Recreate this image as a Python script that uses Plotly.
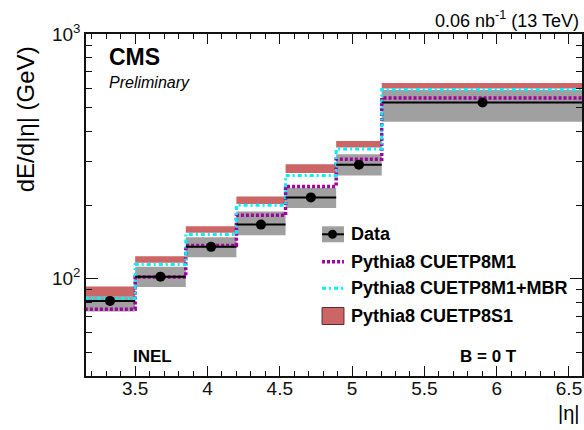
import plotly.graph_objects as go

# |eta| bin edges (HF towers + CASTOR)
eta_edges = [3.152, 3.5, 3.85, 4.2, 4.54, 4.89, 5.205, 6.6]

# measured dE/d|eta| (GeV) with systematic band
data_val = [81.1, 101.9, 134.9, 166.3, 214.8, 291.9, 525.0]
data_lo = [73.4, 92.4, 122.4, 150.5, 194.5, 264.1, 438.0]
data_hi = [89.0, 111.9, 147.7, 188.0, 235.0, 322.6, 590.0]

# generator predictions
cuetp8m1 = [75.0, 101.5, 136.6, 181.5, 238.2, 307.8, 548.0]
cuetp8m1_mbr = [82.9, 114.3, 151.5, 199.4, 264.1, 339.1, 593.0]
cuetp8s1_lo = [85.0, 116.2, 153.9, 202.0, 270.1, 343.3, 599.0]
cuetp8s1_hi = [92.8, 123.6, 163.7, 216.9, 293.8, 365.5, 631.0]

x_ticks = [3.5, 4, 4.5, 5, 5.5, 6, 6.5]
x_ticktext = ["3.5", "4", "4.5", "5", "5.5", "6", "6.5"]
y_ticks = [100, 1000]
y_ticktext = ["10<sup>2</sup>", "10<sup>3</sup>"]
y_minor = [50, 60, 70, 80, 90, 200, 300, 400, 500, 600, 700, 800, 900]

W, H = 584, 430
ML, MR, MT, MB = 86, 0, 34, 54
PW, PH = W - ML - MR, H - MT - MB

FONT = "Liberation Sans, Arial, Helvetica, sans-serif"
GRAY = "#a0a0a0"
RED = "#cc6666"
MAGENTA = "#a000a0"
CYAN = "#00f0ff"


def px(x):
    return (x - ML) / PW


def py(y):
    return (H - MB - y) / PH


def boxes(lo, hi):
    xs, ys = [], []
    for i in range(len(lo)):
        x0, x1 = eta_edges[i], eta_edges[i + 1]
        xs += [x0, x1, x1, x0, x0, None]
        ys += [lo[i], lo[i], hi[i], hi[i], lo[i], None]
    return xs, ys


def steps(vals):
    return eta_edges, list(vals) + [vals[-1]]


centers = [(eta_edges[i] + eta_edges[i + 1]) / 2 for i in range(len(data_val))]
halfw = [(eta_edges[i + 1] - eta_edges[i]) / 2 for i in range(len(data_val))]

fig = go.Figure()

gx, gy = boxes(data_lo, data_hi)
fig.add_trace(go.Scatter(x=gx, y=gy, fill="toself", fillcolor=GRAY,
                         line=dict(width=0), mode="lines", hoverinfo="skip"))
rx, ry = boxes(cuetp8s1_lo, cuetp8s1_hi)
fig.add_trace(go.Scatter(x=rx, y=ry, fill="toself", fillcolor=RED,
                         line=dict(width=0), mode="lines", hoverinfo="skip"))

sx, sy = steps(cuetp8m1)
fig.add_trace(go.Scatter(x=sx, y=sy, mode="lines", line_shape="hv",
                         line=dict(color=MAGENTA, width=3.5, dash="3px,2px")))
sx, sy = steps(cuetp8m1_mbr)
fig.add_trace(go.Scatter(x=sx, y=sy, mode="lines", line_shape="hv",
                         line=dict(color=CYAN, width=3, dash="4px,3px,2px,3px")))

# data points on top, horizontal bar spans the bin
fig.add_trace(go.Scatter(
    x=centers, y=data_val, mode="markers",
    marker=dict(color="black", size=10),
    error_x=dict(type="data", array=halfw, color="black", thickness=2, width=0),
))

axis_common = dict(
    showline=True, linecolor="#111", linewidth=1.5, mirror="allticks",
    ticks="inside", tickcolor="#111", tickwidth=1.2, showgrid=False,
    zeroline=False, tickfont=dict(family=FONT, size=19, color="#111"),
)

fig.update_xaxes(range=[3.16, 6.59], tickvals=x_ticks, ticktext=x_ticktext,
                 ticklen=10, ticklabelstandoff=-6,
                 minor=dict(ticks="inside", dtick=0.1, tick0=3.5, ticklen=5,
                            tickcolor="#111", tickwidth=1.2, showgrid=False),
                 **axis_common)
fig.update_yaxes(type="log", range=[1.60206, 3.0], tickvals=y_ticks,
                 ticktext=y_ticktext, ticklen=12,
                 minor=dict(ticks="inside", tickvals=y_minor, ticklen=6,
                            tickcolor="#111", tickwidth=1.2, showgrid=False),
                 **axis_common)

ann = []


def text(s, x, y, size, xanchor="left", yanchor="middle", angle=0):
    ann.append(dict(text=s, x=px(x), y=py(y), xref="paper", yref="paper",
                    xanchor=xanchor, yanchor=yanchor, showarrow=False,
                    textangle=angle,
                    font=dict(family=FONT, size=size, color="black")))


text("<b>CMS</b>", 107, 57.5, 23)
text("<i>Preliminary</i>", 107, 83, 16)
text("0.06 nb<sup>-1</sup> (13 TeV)", 583, 20, 18, xanchor="right")
text("<b>INEL</b>", 131, 356, 17)
text("<b>B = 0 T</b>", 460, 356, 17)
text("|η|", 584, 413, 20, xanchor="right")
text("dE/d|η| (GeV)", 26, 119, 24, xanchor="center", angle=-90)

# legend
leg_x0, leg_x1, leg_tx = 323, 345, 350
rows = [234.3, 261.7, 288.3, 315.5]
labels = ["Data", "Pythia8 CUETP8M1", "Pythia8 CUETP8M1+MBR", "Pythia8 CUETP8S1"]
for r, lab in zip(rows, labels):
    text("<b>" + lab + "</b>", leg_tx, r, 18)

shapes = [
    dict(type="rect", xref="paper", yref="paper",
         x0=px(leg_x0), x1=px(leg_x1), y0=py(rows[0] + 8), y1=py(rows[0] - 8),
         fillcolor=GRAY, line=dict(width=0)),
    dict(type="line", xref="paper", yref="paper",
         x0=px(leg_x0), x1=px(leg_x1), y0=py(rows[0]), y1=py(rows[0]),
         line=dict(color="black", width=2)),
    dict(type="circle", xref="paper", yref="paper",
         x0=px(333.5 - 4.5), x1=px(333.5 + 4.5),
         y0=py(rows[0] + 4.5), y1=py(rows[0] - 4.5),
         fillcolor="black", line=dict(width=0)),
    dict(type="line", xref="paper", yref="paper",
         x0=px(leg_x0), x1=px(leg_x1), y0=py(rows[1]), y1=py(rows[1]),
         line=dict(color=MAGENTA, width=3.5, dash="3px,2px")),
    dict(type="line", xref="paper", yref="paper",
         x0=px(leg_x0), x1=px(leg_x1), y0=py(rows[2]), y1=py(rows[2]),
         line=dict(color=CYAN, width=3, dash="4px,3px,2px,3px")),
    dict(type="rect", xref="paper", yref="paper",
         x0=px(leg_x0), x1=px(leg_x1), y0=py(rows[3] + 9), y1=py(rows[3] - 8),
         fillcolor=RED, line=dict(color="#5a2a2a", width=1)),
]

fig.update_layout(
    width=W, height=H,
    margin=dict(l=ML, r=MR, t=MT, b=MB),
    paper_bgcolor="white", plot_bgcolor="white",
    showlegend=False,
    annotations=ann, shapes=shapes,
    font=dict(family=FONT, color="black"),
)

fig.write_html("out.html")
